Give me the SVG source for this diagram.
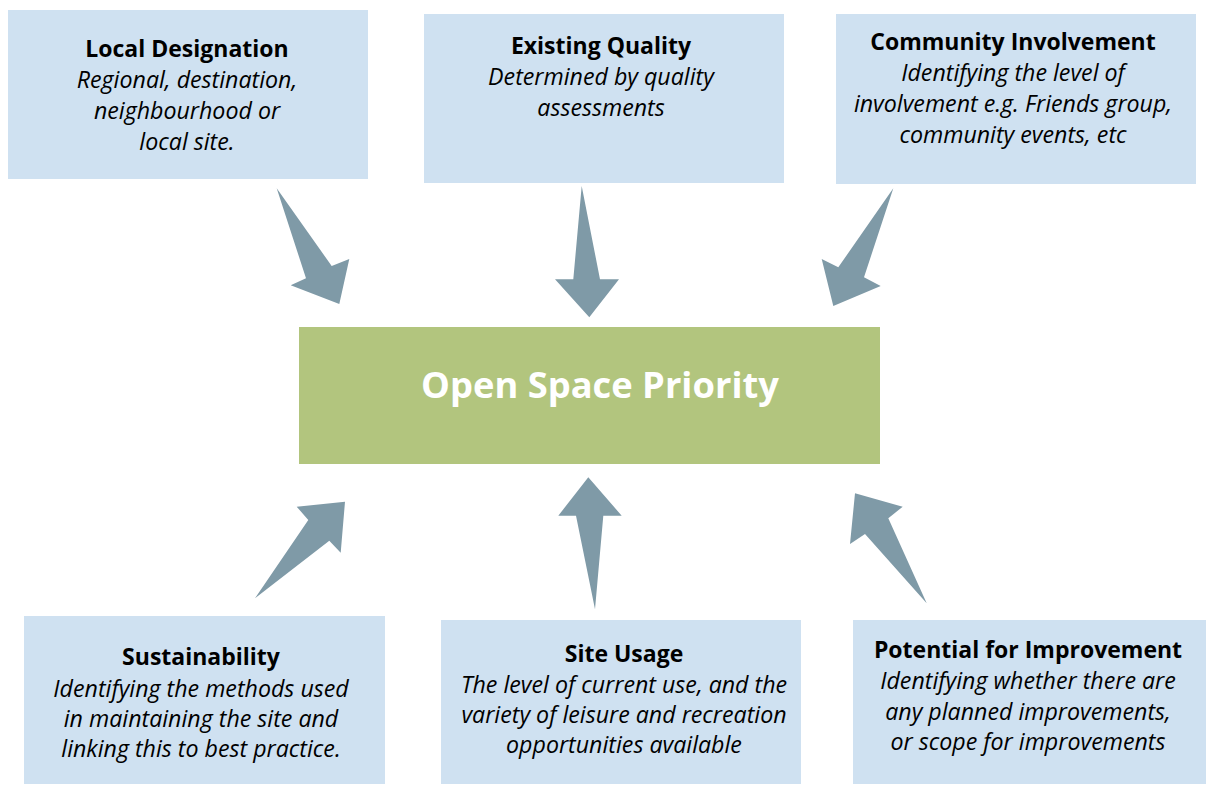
<svg xmlns="http://www.w3.org/2000/svg" width="1206" height="785" viewBox="0 0 1206 785">
<style>
.box{fill:#cfe1f1}
.ctr{fill:#b2c57e}
.arr{fill:#7f9aa7}
text{font-family:"Open Sans","Noto Sans","Liberation Sans",sans-serif;text-anchor:middle;fill:#000}
.t{font-weight:bold;font-size:23px}
.d{font-style:italic;font-size:23.2px}
.big{font-weight:bold;font-size:36.3px;fill:#fff}
</style>
<rect width="1206" height="785" fill="#fff"/>
<g id="local-designation">
<rect class="box" x="8" y="10" width="360" height="169"/>
<text class="t" x="187" y="57">Local Designation</text>
<text class="d" x="187" y="88">Regional, destination,</text>
<text class="d" x="187" y="119">neighbourhood or</text>
<text class="d" x="187" y="150">local site.</text>
</g>
<g id="existing-quality">
<rect class="box" x="424" y="14" width="360" height="169"/>
<text class="t" x="601" y="54">Existing Quality</text>
<text class="d" x="601" y="85">Determined by quality</text>
<text class="d" x="601" y="116">assessments</text>
</g>
<g id="community-involvement">
<rect class="box" x="836" y="14" width="360" height="170"/>
<text class="t" x="1013" y="50">Community Involvement</text>
<text class="d" x="1013" y="81">Identifying the level of</text>
<text class="d" x="1013" y="112">involvement e.g. Friends group,</text>
<text class="d" x="1013" y="143">community events, etc</text>
</g>
<g id="open-space-priority">
<rect class="ctr" x="299" y="327" width="581" height="137"/>
<text class="big" x="600" y="398">Open Space Priority</text>
</g>
<g id="sustainability">
<rect class="box" x="24" y="616" width="361" height="168"/>
<text class="t" x="201" y="665">Sustainability</text>
<text class="d" x="201" y="697">Identifying the methods used</text>
<text class="d" x="201" y="727">in maintaining the site and</text>
<text class="d" x="201" y="757">linking this to best practice.</text>
</g>
<g id="site-usage">
<rect class="box" x="441" y="620" width="360" height="164"/>
<text class="t" x="624" y="662">Site Usage</text>
<text class="d" x="624" y="693">The level of current use, and the</text>
<text class="d" x="624" y="723">variety of leisure and recreation</text>
<text class="d" x="624" y="753">opportunities available</text>
</g>
<g id="potential-for-improvement">
<rect class="box" x="853" y="620" width="353" height="164"/>
<text class="t" x="1028" y="658">Potential for Improvement</text>
<text class="d" x="1028" y="689">Identifying whether there are</text>
<text class="d" x="1028" y="720">any planned improvements,</text>
<text class="d" x="1028" y="750">or scope for improvements</text>
</g>
<g id="connectors">
<polygon class="arr" points="276.7,188.3 331.7,266 349.3,259 339.3,304 290.7,285.3 306,278.3"/>
<polygon class="arr" points="581.7,186 600,279.3 619,279.3 589.3,317.3 555,279.3 573.3,279.3"/>
<polygon class="arr" points="893.3,188.3 864,277.3 880.7,286 833.3,306 821.7,259 838.3,267.3"/>
<polygon class="arr" points="255,598.3 329.3,540.7 340.7,552.7 345,501.7 296.7,506.7 308.3,520"/>
<polygon class="arr" points="595,609.3 603.3,515.7 621.7,515.7 588.3,477.3 558.3,515.7 576,515.7"/>
<polygon class="arr" points="926.7,603.3 888.3,518.3 902.7,506.7 855,493.3 850,544 865,534"/>
</g>
</svg>
